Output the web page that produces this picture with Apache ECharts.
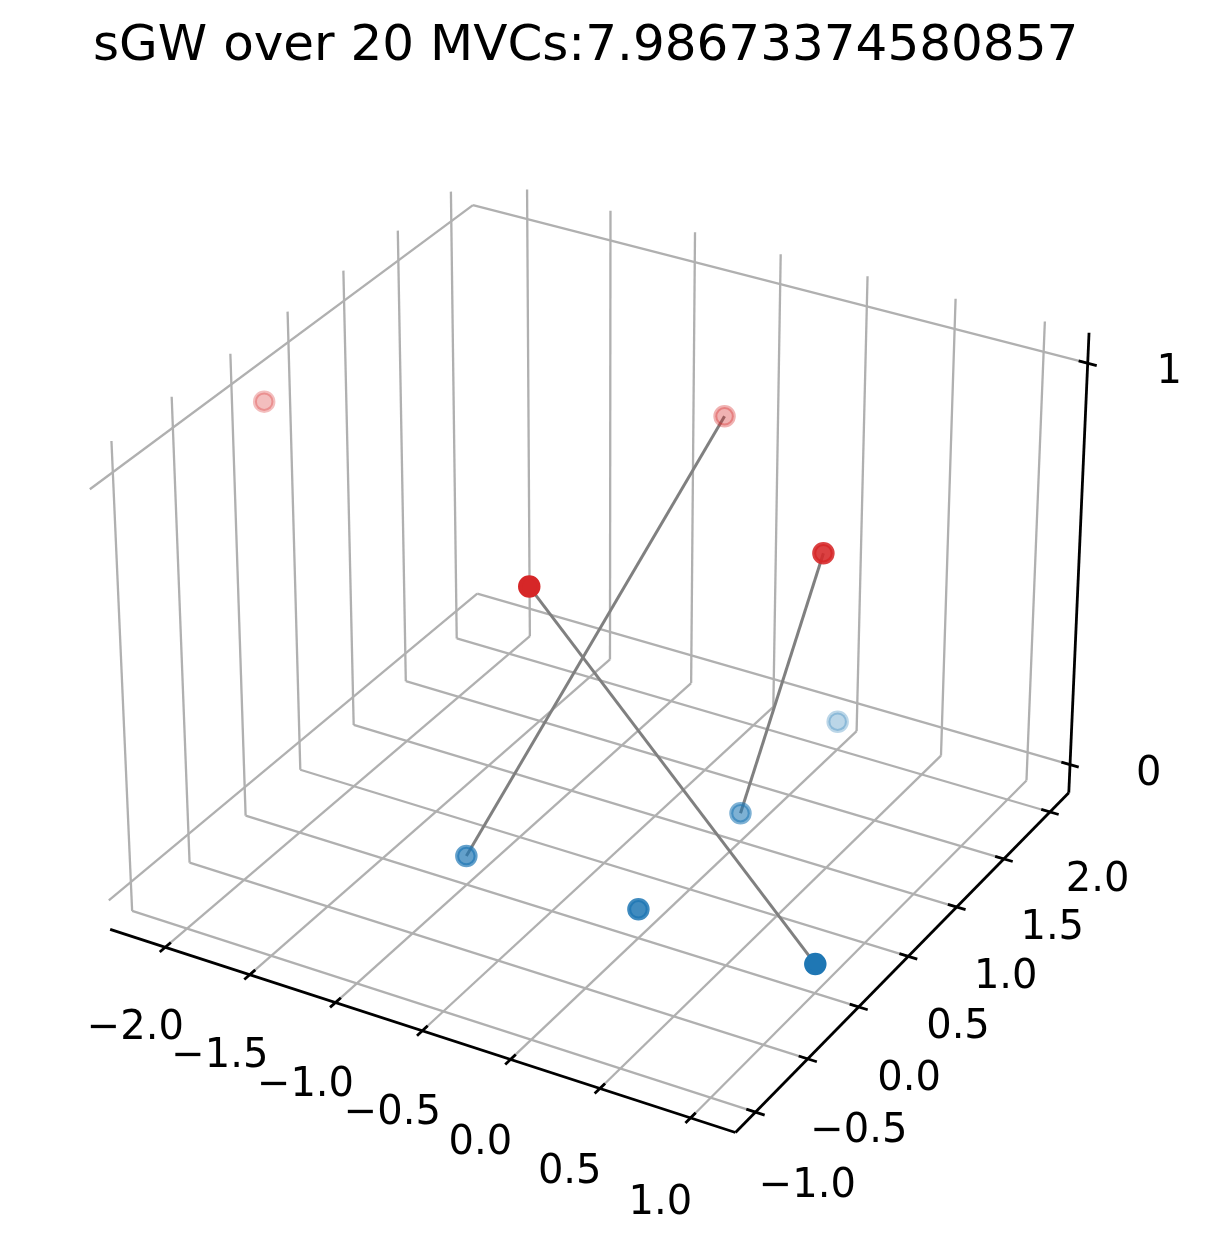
<!DOCTYPE html>
<html>
<head>
<meta charset="utf-8">
<script src="https://cdn.jsdelivr.net/npm/echarts@6/dist/echarts.min.js"></script>
<style>
html,body{margin:0;padding:0;background:#ffffff;}
#chart{width:1209px;height:1258px;}
</style>
</head>
<body>
<div id="chart"></div>
<script>
// ---------------- data ----------------
const titleText = 'sGW over 20 MVCs:7.98673374580857';
const redX = [-2.09, -0.05, -0.02, 1.02];
const redY = [-0.07, 0.88, -0.96, -0.04];
const redZ = [1, 1, 1, 1];
const blueX = [-1.0, 0.0, 1.0, 0.0, 0.0];
const blueY = [0.0, 0.0, 0.0, 1.0, 2.0];
const blueZ = [0, 0, 0, 0, 0];
// matching lines: [red index, blue index]
const pairRed = [1, 2, 3];
const pairBlue = [0, 2, 3];
const xTicks = [-2.0, -1.5, -1.0, -0.5, 0.0, 0.5, 1.0];
const yTicks = [-1.0, -0.5, 0.0, 0.5, 1.0, 1.5, 2.0];
const zTicks = [0, 1];
const xTickLabels = ['\u22122.0', '\u22121.5', '\u22121.0', '\u22120.5', '0.0', '0.5', '1.0'];
const yTickLabels = ['\u22121.0', '\u22120.5', '0.0', '0.5', '1.0', '1.5', '2.0'];
const zTickLabels = ['0', '1'];
// axis (pane) limits
const xLim = [-2.330, 1.245];
const yLim = [-1.188, 2.208];
const zLim = [-0.073, 1.073];

// ---------------- 3D view (matplotlib-like) ----------------
const elev = 30, azim = -60, dist = 10;
const boxAspect = (function () {
  const a = [4, 4, 3];
  const n = Math.sqrt(a[0] * a[0] + a[1] * a[1] + a[2] * a[2]);
  return a.map(v => v * 1.8294640721620434 / n);
})();
const er = elev * Math.PI / 180, ar = azim * Math.PI / 180;
const W = [Math.cos(er) * Math.cos(ar), Math.cos(er) * Math.sin(ar), Math.sin(er)];
const U = (function () {
  const c = [-W[1], W[0], 0];
  const n = Math.hypot(c[0], c[1], c[2]);
  return c.map(v => v / n);
})();
const V = [W[1] * U[2] - W[2] * U[1], W[2] * U[0] - W[0] * U[2], W[0] * U[1] - W[1] * U[0]];
const xr = xLim[1] - xLim[0], yr = yLim[1] - yLim[0], zr = zLim[1] - zLim[0];

function proj(x, y, z) {
  const d = [
    ((x - xLim[0]) / xr - 0.5) * boxAspect[0],
    ((y - yLim[0]) / yr - 0.5) * boxAspect[1],
    ((z - zLim[0]) / zr - 0.5) * boxAspect[2]
  ];
  const du = U[0] * d[0] + U[1] * d[1] + U[2] * d[2];
  const dv = V[0] * d[0] + V[1] * d[1] + V[2] * d[2];
  const dw = W[0] * d[0] + W[1] * d[1] + W[2] * d[2];
  const den = dist - dw;
  return [du / den, dv / den, dw];
}
function seg(p, q) {
  const a = proj(p[0], p[1], p[2]), b = proj(q[0], q[1], q[2]);
  return { coords: [[a[0], a[1]], [b[0], b[1]]] };
}

// ---------------- pane grid ----------------
const gridSegs = [];
yTicks.forEach(t => gridSegs.push(seg([xLim[0], t, zLim[0]], [xLim[0], t, zLim[1]])));
zTicks.forEach(t => gridSegs.push(seg([xLim[0], yLim[0], t], [xLim[0], yLim[1], t])));
xTicks.forEach(t => gridSegs.push(seg([t, yLim[1], zLim[0]], [t, yLim[1], zLim[1]])));
zTicks.forEach(t => gridSegs.push(seg([xLim[0], yLim[1], t], [xLim[1], yLim[1], t])));
xTicks.forEach(t => gridSegs.push(seg([t, yLim[0], zLim[0]], [t, yLim[1], zLim[0]])));
yTicks.forEach(t => gridSegs.push(seg([xLim[0], t, zLim[0]], [xLim[1], t, zLim[0]])));

// ---------------- axis lines + ticks ----------------
const TK = 0.014;
const axisSegs = [
  seg([xLim[0], yLim[0], zLim[0]], [xLim[1], yLim[0], zLim[0]]),
  seg([xLim[1], yLim[0], zLim[0]], [xLim[1], yLim[1], zLim[0]]),
  seg([xLim[1], yLim[1], zLim[0]], [xLim[1], yLim[1], zLim[1]])
];
xTicks.forEach(t => axisSegs.push(seg([t, yLim[0] - TK * yr, zLim[0]], [t, yLim[0] + TK * yr, zLim[0]])));
yTicks.forEach(t => axisSegs.push(seg([xLim[1] + TK * xr, t, zLim[0]], [xLim[1] - TK * xr, t, zLim[0]])));
zTicks.forEach(t => axisSegs.push(seg([xLim[1] + TK * xr, yLim[1], t], [xLim[1] - TK * xr, yLim[1], t])));

// ---------------- tick labels ----------------
const labelData = [];
xTicks.forEach((t, i) => {
  const p = proj(t, yLim[0] - 0.081 * yr, zLim[0] - 0.119 * zr);
  labelData.push({ value: [p[0], p[1]], name: xTickLabels[i] });
});
yTicks.forEach((t, i) => {
  const p = proj(xLim[1] + 0.0805 * xr, t, zLim[0] - 0.123 * zr);
  labelData.push({ value: [p[0], p[1]], name: yTickLabels[i] });
});
zTicks.forEach((t, i) => {
  const p = proj(xLim[1] + 0.1106 * xr, yLim[1] + 0.0316 * yr, t);
  labelData.push({ value: [p[0], p[1]], name: zTickLabels[i] });
});

// ---------------- scatter points with depth shading ----------------
function shaded(xs, ys, zs) {
  const pts = xs.map((x, i) => proj(x, ys[i], zs[i]));
  const ds = pts.map(p => p[2]);
  const mn = Math.min.apply(null, ds), mx = Math.max.apply(null, ds);
  const out = pts.map(p => ({
    value: [p[0], p[1]],
    depth: p[2],
    itemStyle: { opacity: mx > mn ? 0.3 + 0.7 * (p[2] - mn) / (mx - mn) : 1 }
  }));
  out.sort((a, b) => a.depth - b.depth);
  return out;
}
const redData = shaded(redX, redY, redZ);
const blueData = shaded(blueX, blueY, blueZ);

const matchSegs = pairRed.map((ri, k) => {
  const bi = pairBlue[k];
  return seg([redX[ri], redY[ri], redZ[ri]], [blueX[bi], blueY[bi], blueZ[bi]]);
});

// 2D view window of the projected scene
const viewX = [-0.09537, 0.09745];
const viewY = [-0.09984, 0.10080];

const FONT = 'DejaVu Sans';
const chart = echarts.init(document.getElementById('chart'), null, { renderer: 'canvas', width: 1209, height: 1258 });
chart.setOption({
  animation: false,
  backgroundColor: '#ffffff',
  title: {
    text: titleText,
    left: 93,
    top: 22,
    padding: 0,
    textStyle: { fontFamily: FONT, fontSize: 50, fontWeight: 'normal', color: '#000000' }
  },
  grid: { left: 0, right: 0, top: 0, bottom: 0, containLabel: false },
  xAxis: { type: 'value', min: viewX[0], max: viewX[1], show: false },
  yAxis: { type: 'value', min: viewY[0], max: viewY[1], show: false },
  series: [
    {
      type: 'lines', coordinateSystem: 'cartesian2d', silent: true, z: 1,
      data: gridSegs,
      lineStyle: { color: '#b0b0b0', width: 2.3, opacity: 1 }
    },
    {
      type: 'lines', coordinateSystem: 'cartesian2d', silent: true, z: 2,
      data: axisSegs,
      lineStyle: { color: '#000000', width: 2.8, opacity: 1 }
    },
    {
      type: 'lines', coordinateSystem: 'cartesian2d', silent: true, z: 3,
      data: matchSegs,
      lineStyle: { color: '#808080', width: 3.0, opacity: 1 }
    },
    {
      type: 'scatter', silent: true, z: 4,
      data: blueData, symbol: 'circle', symbolSize: 18.5,
      itemStyle: { color: '#1f77b4', borderColor: '#1f77b4', borderWidth: 4 }
    },
    {
      type: 'scatter', silent: true, z: 4,
      data: redData, symbol: 'circle', symbolSize: 18.5,
      itemStyle: { color: '#d62728', borderColor: '#d62728', borderWidth: 4 }
    },
    {
      type: 'scatter', silent: true, z: 5,
      data: labelData, symbolSize: 0,
      itemStyle: { color: 'rgba(0,0,0,0)' },
      label: {
        show: true, position: 'inside', formatter: p => p.data.name,
        color: '#000000', opacity: 1, textBorderWidth: 0,
        fontFamily: FONT, fontSize: 40
      }
    }
  ]
});
</script>
</body>
</html>
